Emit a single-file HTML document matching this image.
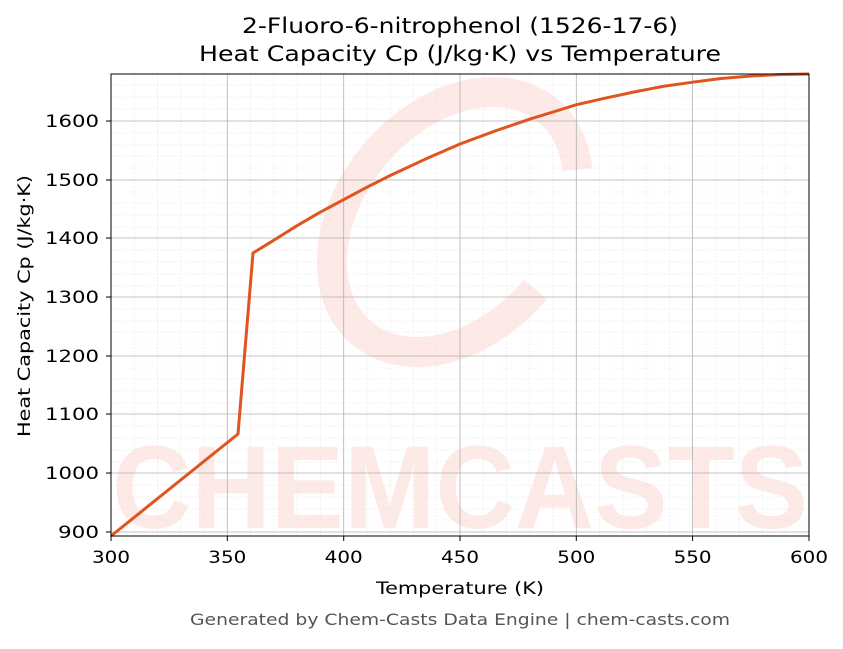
<!DOCTYPE html>
<html><head><meta charset="utf-8"><style>body{margin:0;background:#fff}</style></head><body>
<svg width="843" height="644" xmlns="http://www.w3.org/2000/svg" font-family="DejaVu Sans, Liberation Sans, sans-serif">
<rect width="843" height="644" fill="#fff"/>
<!-- watermark -->
<g opacity="0.7">
<text x="112" y="528" font-size="118" font-weight="bold" fill="#fde0dc" textLength="696" lengthAdjust="spacingAndGlyphs" font-family="Liberation Sans, sans-serif">CHEMCASTS</text>
<ellipse cx="455" cy="222" rx="105" ry="145" fill="none" stroke="#fde0dc" stroke-width="30" stroke-dasharray="660 240" transform="rotate(40 455 222)"/>
</g>
<!-- minor grid -->
<g stroke="#e6e6e6" stroke-width="0.6" stroke-dasharray="2,1.5">
<line x1="134.3" y1="74" x2="134.3" y2="536"/><line x1="157.5" y1="74" x2="157.5" y2="536"/><line x1="180.8" y1="74" x2="180.8" y2="536"/><line x1="204" y1="74" x2="204" y2="536"/>
<line x1="250.6" y1="74" x2="250.6" y2="536"/><line x1="273.9" y1="74" x2="273.9" y2="536"/><line x1="297.1" y1="74" x2="297.1" y2="536"/><line x1="320.4" y1="74" x2="320.4" y2="536"/>
<line x1="366.9" y1="74" x2="366.9" y2="536"/><line x1="390.2" y1="74" x2="390.2" y2="536"/><line x1="413.4" y1="74" x2="413.4" y2="536"/><line x1="436.7" y1="74" x2="436.7" y2="536"/>
<line x1="483.2" y1="74" x2="483.2" y2="536"/><line x1="506.5" y1="74" x2="506.5" y2="536"/><line x1="529.7" y1="74" x2="529.7" y2="536"/><line x1="553" y1="74" x2="553" y2="536"/>
<line x1="599.6" y1="74" x2="599.6" y2="536"/><line x1="622.8" y1="74" x2="622.8" y2="536"/><line x1="646.1" y1="74" x2="646.1" y2="536"/><line x1="669.3" y1="74" x2="669.3" y2="536"/>
<line x1="715.9" y1="74" x2="715.9" y2="536"/><line x1="739.1" y1="74" x2="739.1" y2="536"/><line x1="762.4" y1="74" x2="762.4" y2="536"/><line x1="785.6" y1="74" x2="785.6" y2="536"/>
<line x1="111" y1="85" x2="809" y2="85"/><line x1="111" y1="97" x2="809" y2="97"/><line x1="111" y1="109" x2="809" y2="109"/>
<line x1="111" y1="133" x2="809" y2="133"/><line x1="111" y1="145" x2="809" y2="145"/><line x1="111" y1="156" x2="809" y2="156"/><line x1="111" y1="168" x2="809" y2="168"/>
<line x1="111" y1="192" x2="809" y2="192"/><line x1="111" y1="203" x2="809" y2="203"/><line x1="111" y1="215" x2="809" y2="215"/><line x1="111" y1="227" x2="809" y2="227"/>
<line x1="111" y1="250" x2="809" y2="250"/><line x1="111" y1="262" x2="809" y2="262"/><line x1="111" y1="274" x2="809" y2="274"/><line x1="111" y1="286" x2="809" y2="286"/>
<line x1="111" y1="309" x2="809" y2="309"/><line x1="111" y1="321" x2="809" y2="321"/><line x1="111" y1="332" x2="809" y2="332"/><line x1="111" y1="344" x2="809" y2="344"/>
<line x1="111" y1="368" x2="809" y2="368"/><line x1="111" y1="379" x2="809" y2="379"/><line x1="111" y1="391" x2="809" y2="391"/><line x1="111" y1="403" x2="809" y2="403"/>
<line x1="111" y1="426" x2="809" y2="426"/><line x1="111" y1="438" x2="809" y2="438"/><line x1="111" y1="450" x2="809" y2="450"/><line x1="111" y1="462" x2="809" y2="462"/>
<line x1="111" y1="485" x2="809" y2="485"/><line x1="111" y1="497" x2="809" y2="497"/><line x1="111" y1="509" x2="809" y2="509"/><line x1="111" y1="520" x2="809" y2="520"/>
</g>
<!-- major grid -->
<g stroke="#b0b0b0" stroke-width="0.8">
<line x1="227.3" y1="74" x2="227.3" y2="536"/><line x1="343.7" y1="74" x2="343.7" y2="536"/><line x1="460" y1="74" x2="460" y2="536"/><line x1="576.3" y1="74" x2="576.3" y2="536"/><line x1="692.6" y1="74" x2="692.6" y2="536"/>
<line x1="111" y1="121" x2="809" y2="121"/><line x1="111" y1="180" x2="809" y2="180"/><line x1="111" y1="238" x2="809" y2="238"/><line x1="111" y1="297" x2="809" y2="297"/><line x1="111" y1="356" x2="809" y2="356"/><line x1="111" y1="414" x2="809" y2="414"/><line x1="111" y1="473" x2="809" y2="473"/><line x1="111" y1="532" x2="809" y2="532"/>
</g>
<!-- curve -->
<polyline fill="none" stroke="#e0541f" stroke-width="3" stroke-linejoin="round" points="111,536 238,434 253,253 275,239.5 297,225.7 320,212.3 344,199.4 367,187.2 390,175.6 425,159.3 460,144 495,131 530,119.1 553,112 576,104.8 605,98.2 634.5,91.9 663,86.4 692.6,82.2 721,78.5 751,76 780,74.5 809,74"/>
<rect x="111" y="74" width="698" height="462" fill="none" stroke="#000" stroke-width="1"/>
<!-- ticks -->
<g stroke="#000" stroke-width="1">
<line x1="111" y1="536" x2="111" y2="541"/><line x1="227.3" y1="536" x2="227.3" y2="541"/><line x1="343.7" y1="536" x2="343.7" y2="541"/><line x1="460" y1="536" x2="460" y2="541"/><line x1="576.3" y1="536" x2="576.3" y2="541"/><line x1="692.6" y1="536" x2="692.6" y2="541"/><line x1="809" y1="536" x2="809" y2="541"/>
<line x1="106" y1="121" x2="111" y2="121"/><line x1="106" y1="180" x2="111" y2="180"/><line x1="106" y1="238" x2="111" y2="238"/><line x1="106" y1="297" x2="111" y2="297"/><line x1="106" y1="356" x2="111" y2="356"/><line x1="106" y1="414" x2="111" y2="414"/><line x1="106" y1="473" x2="111" y2="473"/><line x1="106" y1="532" x2="111" y2="532"/>
</g>
<g font-size="17" fill="#000" text-anchor="middle">
<text x="111" y="563" textLength="38" lengthAdjust="spacingAndGlyphs">300</text><text x="227.3" y="563" textLength="38" lengthAdjust="spacingAndGlyphs">350</text><text x="343.7" y="563" textLength="38" lengthAdjust="spacingAndGlyphs">400</text><text x="460" y="563" textLength="38" lengthAdjust="spacingAndGlyphs">450</text><text x="576.3" y="563" textLength="38" lengthAdjust="spacingAndGlyphs">500</text><text x="692.6" y="563" textLength="38" lengthAdjust="spacingAndGlyphs">550</text><text x="809" y="563" textLength="38" lengthAdjust="spacingAndGlyphs">600</text>
</g>
<g font-size="17" fill="#000" text-anchor="end">
<text x="99" y="127" textLength="54" lengthAdjust="spacingAndGlyphs">1600</text><text x="99" y="186" textLength="54" lengthAdjust="spacingAndGlyphs">1500</text><text x="99" y="244" textLength="54" lengthAdjust="spacingAndGlyphs">1400</text><text x="99" y="303" textLength="54" lengthAdjust="spacingAndGlyphs">1300</text><text x="99" y="362" textLength="54" lengthAdjust="spacingAndGlyphs">1200</text><text x="99" y="420" textLength="54" lengthAdjust="spacingAndGlyphs">1100</text><text x="99" y="479" textLength="54" lengthAdjust="spacingAndGlyphs">1000</text><text x="99" y="538" textLength="41" lengthAdjust="spacingAndGlyphs">900</text>
</g>
<text x="460" y="594" font-size="17" text-anchor="middle" textLength="168" lengthAdjust="spacingAndGlyphs">Temperature (K)</text>
<text x="30" y="306" font-size="17" text-anchor="middle" transform="rotate(-90 30 306)" textLength="262" lengthAdjust="spacingAndGlyphs">Heat Capacity Cp (J/kg·K)</text>
<text x="460" y="33" font-size="21" text-anchor="middle" textLength="436" lengthAdjust="spacingAndGlyphs">2-Fluoro-6-nitrophenol (1526-17-6)</text>
<text x="460" y="61" font-size="21" text-anchor="middle" textLength="522" lengthAdjust="spacingAndGlyphs">Heat Capacity Cp (J/kg·K) vs Temperature</text>
<text x="460" y="625" font-size="16" fill="#555" text-anchor="middle" textLength="540" lengthAdjust="spacingAndGlyphs">Generated by Chem-Casts Data Engine | chem-casts.com</text>
</svg>
</body></html>
